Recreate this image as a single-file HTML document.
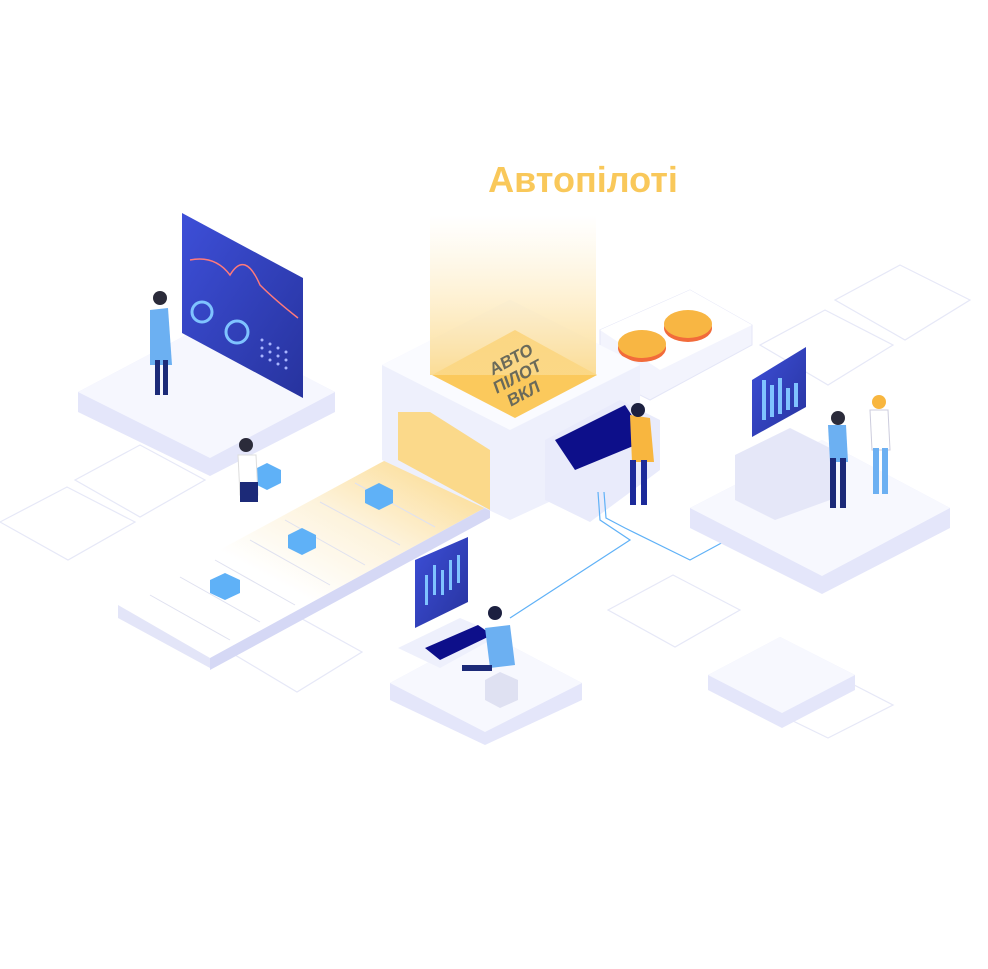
<!DOCTYPE html>
<html><head><meta charset="utf-8"><style>
html,body{margin:0;padding:0;background:#fff;width:988px;height:969px;overflow:hidden}
</style></head><body>
<svg width="988" height="969" viewBox="0 0 988 969" xmlns="http://www.w3.org/2000/svg" font-family="Liberation Sans, sans-serif">
<defs>
<linearGradient id="beam" x1="0" y1="0" x2="0" y2="1"><stop offset="0" stop-color="#fde9b8" stop-opacity="0"/><stop offset="1" stop-color="#fbd98a" stop-opacity="0.9"/></linearGradient>
<linearGradient id="scr" x1="0" y1="0" x2="1" y2="1"><stop offset="0" stop-color="#3d4fd8"/><stop offset="1" stop-color="#27339e"/></linearGradient>
<linearGradient id="conv" x1="1" y1="0" x2="0" y2="1"><stop offset="0" stop-color="#fcd57e"/><stop offset="0.35" stop-color="#fdf3dc"/><stop offset="0.6" stop-color="#fff"/></linearGradient>
</defs>
<!-- faint outline tiles -->
<g fill="none" stroke="#e6e8f7" stroke-width="1.2">
<path d="M835 300 L900 265 L970 300 L905 340 Z"/>
<path d="M760 345 L825 310 L893 345 L828 385 Z"/>
<path d="M0 522 L67 487 L135 522 L68 560 Z"/>
<path d="M75 480 L140 445 L205 480 L140 517 Z"/>
<path d="M608 610 L673 575 L740 610 L675 647 Z"/>
<path d="M230 652 L295 615 L362 652 L297 692 Z"/>
<path d="M760 705 L825 670 L893 705 L828 738 Z"/>
</g>
<!-- coin track -->
<path d="M600 330 L690 290 L752 325 L752 345 L650 400 L600 375 Z" fill="#f3f4fd" stroke="#e4e6f7"/>
<path d="M600 330 L690 290 L752 325 L660 370 Z" fill="#fff"/>
<ellipse cx="642" cy="348" rx="24" ry="14" fill="#f26b3a"/><ellipse cx="642" cy="344" rx="24" ry="14" fill="#f8b643"/>
<ellipse cx="688" cy="328" rx="24" ry="14" fill="#f26b3a"/><ellipse cx="688" cy="324" rx="24" ry="14" fill="#f8b643"/>
<!-- left platform -->
<path d="M78 392 L205 325 L335 392 L335 412 L210 476 L78 412 Z" fill="#e4e6fa"/>
<path d="M78 392 L205 325 L335 392 L210 458 Z" fill="#f6f7fe"/>
<path d="M182 213 L303 278 L303 398 L182 333 Z" fill="url(#scr)"/>
<path d="M190 260 Q215 255 230 275 Q245 250 260 285 Q275 300 298 318" fill="none" stroke="#ff7a7a" stroke-width="1.5"/>
<circle cx="202" cy="312" r="10" fill="none" stroke="#7fc3ff" stroke-width="3"/>
<circle cx="237" cy="332" r="11" fill="none" stroke="#7fc3ff" stroke-width="3"/>
<g fill="#fff" opacity="0.8"><rect x="258" y="335" width="35" height="30" fill="none"/></g>
<g fill="#a9b5ff"><circle cx="262" cy="340" r="1.5"/><circle cx="270" cy="344" r="1.5"/><circle cx="278" cy="348" r="1.5"/><circle cx="286" cy="352" r="1.5"/><circle cx="262" cy="348" r="1.5"/><circle cx="270" cy="352" r="1.5"/><circle cx="278" cy="356" r="1.5"/><circle cx="286" cy="360" r="1.5"/><circle cx="262" cy="356" r="1.5"/><circle cx="270" cy="360" r="1.5"/><circle cx="278" cy="364" r="1.5"/><circle cx="286" cy="368" r="1.5"/></g>
<!-- person left -->
<path d="M150 310 L168 308 L172 365 L150 365 Z" fill="#6cb0f2"/>
<rect x="155" y="360" width="5" height="35" fill="#1c2a78"/><rect x="163" y="360" width="5" height="35" fill="#1c2a78"/>
<circle cx="160" cy="298" r="7" fill="#2b2b3a"/>
<!-- conveyor -->
<path d="M118 605 L395 455 L490 505 L210 658 Z" fill="url(#conv)"/>
<path d="M118 605 L210 658 L210 668 L118 618 Z" fill="#e3e5f8"/>
<path d="M210 658 L490 505 L490 518 L210 670 Z" fill="#d5d8f5"/>
<g stroke="#dfe1f0" stroke-width="1"><line x1="150" y1="595" x2="230" y2="640"/><line x1="180" y1="577" x2="260" y2="622"/><line x1="215" y1="560" x2="295" y2="605"/><line x1="250" y1="540" x2="330" y2="585"/><line x1="285" y1="520" x2="365" y2="565"/><line x1="320" y1="502" x2="400" y2="545"/><line x1="355" y1="483" x2="435" y2="527"/></g>
<g fill="#5fb1f7"><path d="M210 580 L225 573 L240 580 L240 593 L225 600 L210 593 Z"/><path d="M288 535 L302 528 L316 535 L316 548 L302 555 L288 548 Z"/><path d="M365 490 L379 483 L393 490 L393 503 L379 510 L365 503 Z"/><path d="M253 470 L267 463 L281 470 L281 483 L267 490 L253 483 Z"/></g>
<!-- person with box -->
<path d="M238 455 L256 455 L258 495 L240 495 Z" fill="#fff" stroke="#ddd"/><rect x="240" y="482" width="18" height="20" fill="#1c2a78"/>
<circle cx="246" cy="445" r="7" fill="#2b2b3a"/>
<!-- machine -->
<path d="M382 365 L510 300 L640 365 L640 460 L510 520 L382 460 Z" fill="#eef0fc"/>
<path d="M382 365 L510 300 L640 365 L510 430 Z" fill="#fafbff"/>
<path d="M432 375 L515 330 L597 375 L515 418 Z" fill="#fbc95c"/>
<path d="M398 412 L430 412 L490 450 L490 510 L398 460 Z" fill="#fbd98a"/>
<rect x="430" y="215" width="166" height="160" fill="url(#beam)"/>
<g transform="translate(518,378) rotate(-28) skewX(-8)" fill="#6a6a5a" font-weight="bold" font-size="17" text-anchor="middle">
<text x="0" y="-14">АВТО</text><text x="0" y="4">ПІЛОТ</text><text x="0" y="22">ВКЛ</text></g>
<!-- console -->
<path d="M545 440 L620 400 L660 420 L660 470 L590 522 L545 500 Z" fill="#e9ebfb"/>
<path d="M555 440 L625 405 L648 440 L575 470 Z" fill="#0d0f8a"/>
<!-- yellow person -->
<path d="M630 415 L650 418 L654 462 L632 462 Z" fill="#f8b63f"/><rect x="630" y="460" width="6" height="45" fill="#1c2a9a"/><rect x="641" y="460" width="6" height="45" fill="#1c2a9a"/><circle cx="638" cy="410" r="7" fill="#1c2040"/>
<!-- blue lines -->
<g fill="none" stroke="#5fb1f7" stroke-width="1.2"><path d="M598 492 L600 520 L630 540 L510 618"/><path d="M604 492 L606 518 L625 528 L690 560 L727 540"/></g>
<!-- right platform -->
<path d="M690 508 L822 440 L950 508 L950 528 L822 594 L690 528 Z" fill="#e4e6fa"/>
<path d="M690 508 L822 440 L950 508 L822 576 Z" fill="#f7f8fe"/>
<path d="M735 455 L790 428 L830 448 L830 500 L775 520 L735 500 Z" fill="#e5e7f8"/>
<path d="M752 380 L806 347 L806 407 L752 437 Z" fill="url(#scr)"/>
<g fill="#7fc3ff"><rect x="762" y="380" width="4" height="40"/><rect x="770" y="385" width="4" height="32"/><rect x="778" y="378" width="4" height="36"/><rect x="786" y="388" width="4" height="22"/><rect x="794" y="383" width="4" height="24"/></g>
<path d="M828 425 L846 425 L848 462 L830 462 Z" fill="#6cb0f2"/><rect x="830" y="458" width="6" height="50" fill="#1c2a78"/><rect x="840" y="458" width="6" height="50" fill="#1c2a78"/><circle cx="838" cy="418" r="7" fill="#2b2b3a"/>
<path d="M870 410 L888 410 L890 450 L872 450 Z" fill="#fff" stroke="#ccd"/><rect x="873" y="448" width="6" height="46" fill="#6cb0f2"/><rect x="882" y="448" width="6" height="46" fill="#6cb0f2"/><circle cx="879" cy="402" r="7" fill="#f8b63f"/>
<!-- bottom platform -->
<path d="M390 683 L485 632 L582 683 L582 700 L485 745 L390 700 Z" fill="#e4e6fa"/>
<path d="M390 683 L485 632 L582 683 L485 732 Z" fill="#f7f8fe"/>
<path d="M415 560 L468 537 L468 602 L415 628 Z" fill="url(#scr)"/>
<g fill="#7fc3ff"><rect x="425" y="575" width="3" height="30"/><rect x="433" y="565" width="3" height="30"/><rect x="441" y="570" width="3" height="25"/><rect x="449" y="560" width="3" height="30"/><rect x="457" y="555" width="3" height="28"/></g>
<path d="M398 648 L460 618 L500 635 L440 668 Z" fill="#eef0fc"/>
<path d="M425 648 L478 625 L492 635 L440 660 Z" fill="#0d0f8a"/>
<path d="M485 628 L510 625 L515 665 L490 668 Z" fill="#6cb0f2"/><circle cx="495" cy="613" r="7" fill="#1c2040"/>
<rect x="462" y="665" width="30" height="6" fill="#1c2a78"/>
<path d="M485 680 L500 672 L518 680 L518 700 L500 708 L485 700 Z" fill="#dfe1f2"/>
<!-- small right platform -->
<path d="M708 675 L780 637 L855 675 L855 690 L782 728 L708 690 Z" fill="#e4e6fa"/>
<path d="M708 675 L780 637 L855 675 L782 713 Z" fill="#f7f8fe"/>
<!-- title -->
<text x="583" y="192" fill="#f9c85a" font-size="36" font-weight="bold" text-anchor="middle">Автопілоті</text>
</svg>
</body></html>
